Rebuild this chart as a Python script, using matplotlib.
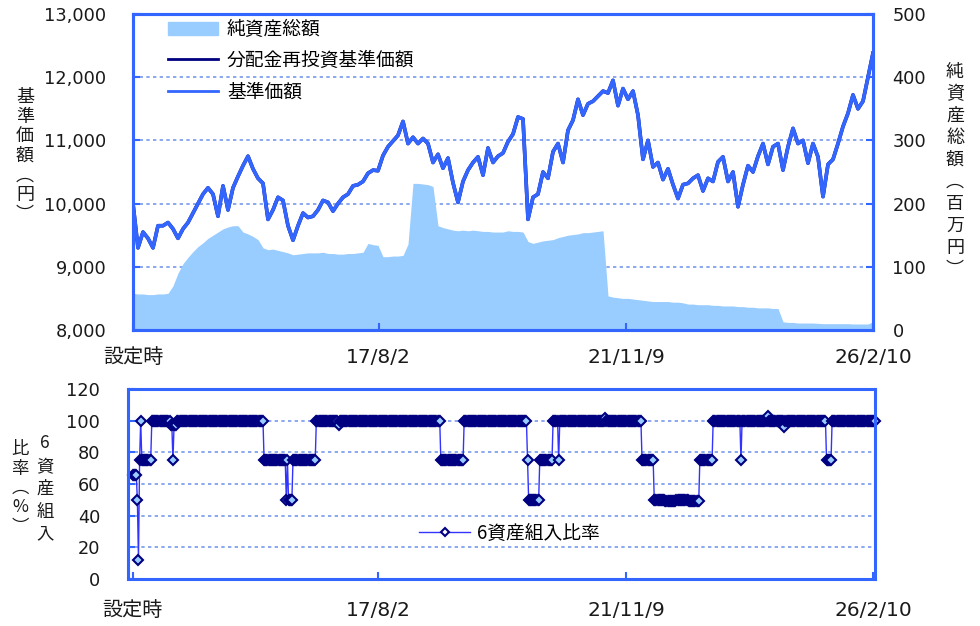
import matplotlib
matplotlib.use('Agg')
import matplotlib.pyplot as plt
from matplotlib.patches import Patch
from matplotlib.lines import Line2D
import numpy as np
import pandas as pd

plt.rcParams['font.family'] = ['Noto Sans CJK JP', 'DejaVu Sans']
NUM_FONT = ['DejaVu Sans', 'Noto Sans CJK JP']

# 期間と目盛
start = pd.Timestamp('2013-05-09')
end = pd.Timestamp('2026-02-10')
tick_dates = [start, pd.Timestamp('2017-08-02'), pd.Timestamp('2021-11-09'), end]
tick_labels = ['設定時', '17/8/2', '21/11/9', '26/2/10']

# 基準価額（円）
nav = [10000, 9300, 9550, 9450, 9300, 9650, 9650, 9700, 9600, 9450,
       9600, 9700, 9850, 10000, 10150, 10250, 10150, 9800, 10280, 9900,
       10250, 10430, 10600, 10750, 10550, 10400, 10320, 9750, 9900, 10100,
       10050, 9650, 9420, 9650, 9850, 9780, 9800, 9900, 10050, 10020,
       9880, 10000, 10100, 10150, 10280, 10300, 10350, 10480, 10530, 10520,
       10760, 10900, 10990, 11080, 11300, 10950, 11050, 10950, 11030, 10950,
       10650, 10780, 10560, 10720, 10330, 10020, 10350, 10530, 10650, 10740,
       10450, 10880, 10650, 10750, 10800, 10980, 11100, 11370, 11340, 9750,
       10100, 10150, 10500, 10400, 10820, 10950, 10650, 11160, 11320, 11650,
       11400, 11580, 11620, 11700, 11780, 11750, 11950, 11550, 11820, 11650,
       11780, 11400, 10700, 11000, 10580, 10650, 10380, 10550, 10300, 10080,
       10300, 10320, 10400, 10450, 10200, 10400, 10350, 10660, 10740, 10350,
       10500, 9950, 10300, 10600, 10500, 10750, 10950, 10620, 10900, 10950,
       10530, 10900, 11190, 10950, 11000, 10640, 10950, 10740, 10110, 10620,
       10700, 10950, 11220, 11430, 11720, 11500, 11620, 12000, 12380]

# 純資産総額（百万円）
net_assets = [58, 57, 57, 56, 56, 57, 57, 58, 70, 90,
              105, 115, 124, 132, 138, 145, 150, 155, 160, 163,
              165, 165, 155, 152, 148, 143, 130, 127, 128, 126,
              124, 122, 119, 120, 121, 122, 122, 122, 123, 121,
              121, 120, 120, 121, 121, 122, 123, 137, 135, 134,
              116, 116, 117, 117, 118, 136, 232, 232, 231, 230,
              227, 165, 162, 160, 158, 157, 158, 157, 158, 157,
              156, 156, 155, 155, 155, 157, 156, 156, 155, 140,
              137, 139, 141, 142, 143, 146, 148, 150, 151, 152,
              154, 154, 155, 156, 157, 54, 52, 51, 50, 50,
              49, 48, 47, 46, 45, 45, 45, 45, 44, 44,
              43, 41, 41, 40, 40, 40, 39, 39, 38, 38,
              38, 37, 37, 36, 36, 35, 35, 35, 34, 34,
              13, 12, 12, 11, 11, 11, 11, 10.5, 10, 10,
              10, 10, 10, 10, 9.5, 9.5, 9.5, 9.5, 13]

# 6資産組入比率（%）: 値と継続週数
ratio_values = [66, 50, 12, 75, 100, 75, 100, 97, 75, 97,
                100, 75, 50, 75, 50, 75, 100, 97, 100, 75,
                100, 75, 50, 75, 100, 75, 100, 102, 100, 75,
                50, 49, 50, 49, 75, 100, 75, 100, 103, 100,
                96, 100, 75, 100]
ratio_weeks = [4, 1, 1, 1, 1, 9, 17, 2, 1, 3,
               78, 20, 1, 1, 4, 21, 20, 1, 91, 21,
               57, 1, 10, 12, 5, 1, 41, 1, 32, 11,
               10, 10, 11, 10, 12, 25, 1, 23, 1, 14,
               1, 37, 5, 40]

dates = pd.date_range(start, end, periods=len(nav))
ratio = np.repeat(ratio_values, ratio_weeks)
ratio_dates = pd.date_range(start, periods=len(ratio), freq='7D')

BLUE = '#3366FF'
GRID = '#7799EE'
NAVY = '#000080'
FILL = '#99CCFF'
TXT = '#1a1a1a'

fig = plt.figure(figsize=(9.8, 6.26), dpi=100)


def vtext(x, y, label, size=12, spacing=1.0):
    # 縦書きラベル
    fig.text(x / 980, 1 - y / 626, '\n'.join(label), ha='center', va='center',
             fontsize=size, linespacing=spacing, color=TXT)


# 上段：基準価額と純資産総額
ax1 = fig.add_axes([133/980, 1-330/626, 740/980, 316/626])
ax2 = ax1.twinx()
ax1.set_zorder(2)
ax2.set_zorder(1)
ax1.patch.set_visible(False)

ax2.fill_between(dates, net_assets, 0, color=FILL, lw=0)
ax2.set_ylim(0, 500)
ax2.set_yticks(range(0, 501, 100))
ax2.yaxis.grid(True, ls=(0, (2, 2)), color=GRID, lw=1.2)
ax2.set_axisbelow(True)

ax1.plot(dates, nav, color=NAVY, lw=2.6)
ax1.plot(dates, nav, color=BLUE, lw=2.6)
ax1.set_ylim(8000, 13000)
ax1.set_yticks(range(8000, 13001, 1000))
ax1.set_yticklabels([f'{v:,}' for v in range(8000, 13001, 1000)])
ax1.set_xlim(start, end)
ax1.set_xticks(tick_dates)
ax1.set_xticklabels(tick_labels, fontfamily=NUM_FONT, fontsize=14.5, color=TXT)

ax1.tick_params(axis='y', direction='in', length=5, width=1.5, color=BLUE,
                pad=19, labelsize=12.8, labelcolor=TXT, labelfontfamily='DejaVu Sans')
ax1.tick_params(axis='x', direction='in', length=5, width=1.5, color=BLUE, pad=13)
ax2.tick_params(axis='y', direction='in', length=5, width=1.5, color=BLUE,
                pad=14, labelsize=12.8, labelcolor=TXT, labelfontfamily='DejaVu Sans')

for ax in (ax1, ax2):
    for sp in ax.spines.values():
        sp.set_color(BLUE)
        sp.set_linewidth(2.2)

handles = [Patch(color=FILL), Line2D([], [], color=NAVY, lw=2), Line2D([], [], color=BLUE, lw=2)]
ax1.legend(handles, ['純資産総額', '分配金再投資基準価額', '基準価額'], loc='upper left',
           bbox_to_anchor=(0.047, 0.985), frameon=False, fontsize=13.5, borderpad=0,
           borderaxespad=0, handlelength=2.7, handletextpad=0.45, labelspacing=0.55)

vtext(25, 156, '基準価額︵円︶', size=13, spacing=1.11)
vtext(955, 171, '純資産総額︵百万円︶', size=13, spacing=1.29)

# 下段：6資産組入比率
ax3 = fig.add_axes([128/980, 1-579/626, 747/980, 190/626])
ax3.plot(ratio_dates, ratio, color='#3333FF', lw=1, marker='D', ms=5.5, mfc=FILL,
         mec=NAVY, mew=1.5, clip_on=False)
ax3.set_xlim(start - pd.Timedelta(days=31), end + pd.Timedelta(days=13))
ax3.set_ylim(0, 120)
ax3.set_yticks(range(0, 121, 20))
ax3.yaxis.grid(True, ls=(0, (2, 2)), color=GRID, lw=1.2)
ax3.set_axisbelow(True)
ax3.set_xticks(tick_dates)
ax3.set_xticklabels(tick_labels, fontfamily=NUM_FONT, fontsize=14.5, color=TXT)
ax3.tick_params(axis='y', direction='in', length=5, width=1.5, color=BLUE,
                pad=20, labelsize=12.8, labelcolor=TXT, labelfontfamily='DejaVu Sans')
ax3.tick_params(axis='x', direction='in', length=5, width=1.5, color=BLUE, pad=16)
for sp in ax3.spines.values():
    sp.set_color(BLUE)
    sp.set_linewidth(2.2)

leg_h = [Line2D([], [], color='#3333FF', lw=1, marker='D', ms=4, mfc='white', mec=NAVY, mew=1.5)]
ax3.legend(leg_h, ['6資産組入比率'], loc='center left', bbox_to_anchor=(0.39, 0.242),
           frameon=False, fontsize=13.5, borderpad=0, borderaxespad=0,
           handlelength=2.7, handletextpad=0.4)

vtext(45, 489, '6資産組入', size=12.5, spacing=1.34)
vtext(20, 488, '比率︵%︶', size=12.5, spacing=1.1)

fig.savefig('out.png', dpi=100)
